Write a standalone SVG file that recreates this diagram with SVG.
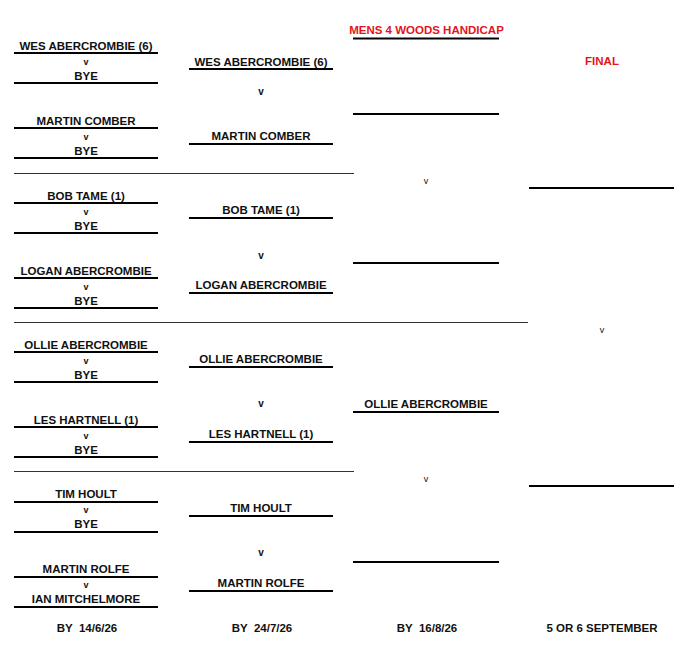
<svg xmlns="http://www.w3.org/2000/svg" width="700" height="664" viewBox="0 0 700 664">
<style>
text{font-family:"Liberation Sans",Arial,sans-serif;font-weight:bold;font-size:11.5px;fill:#111;text-anchor:middle;white-space:pre}
.vs{font-size:9px}
.vb{font-size:10px}
.vr{font-size:9px;font-weight:normal}
.red{fill:#e3141b}
.thick{stroke:#000;stroke-width:2}
.thin{stroke:#333;stroke-width:1}
</style>
<rect width="700" height="664" fill="#fff"/>
<g id="title">
<text class="red" x="426.5" y="34">MENS 4 WOODS HANDICAP</text>
<line class="thick" x1="353" y1="38.5" x2="499" y2="38.5"/>
</g>
<g id="final-title"><text class="red" x="602" y="65">FINAL</text></g>

<g id="connectors">
<line class="thin" x1="14" y1="173.5" x2="354" y2="173.5"/>
<line class="thin" x1="14" y1="322.5" x2="528" y2="322.5"/>
<line class="thin" x1="14" y1="471.5" x2="354" y2="471.5"/>
</g>

<!-- Round 1 -->
<g id="r1-m1">
<text x="86" y="49.5">WES ABERCROMBIE (6)</text><line class="thick" x1="14" y1="53" x2="158" y2="53"/>
<text class="vs" x="86" y="65">v</text>
<text x="86" y="79.5">BYE</text><line class="thick" x1="14" y1="83" x2="158" y2="83"/>
</g>
<g id="r1-m2">
<text x="86" y="124.5">MARTIN COMBER</text><line class="thick" x1="14" y1="128" x2="158" y2="128"/>
<text class="vs" x="86" y="140">v</text>
<text x="86" y="154.5">BYE</text><line class="thick" x1="14" y1="158" x2="158" y2="158"/>
</g>
<g id="r1-m3">
<text x="86" y="199.5">BOB TAME (1)</text><line class="thick" x1="14" y1="203" x2="158" y2="203"/>
<text class="vs" x="86" y="215">v</text>
<text x="86" y="229.5">BYE</text><line class="thick" x1="14" y1="233" x2="158" y2="233"/>
</g>
<g id="r1-m4">
<text x="86" y="274.5">LOGAN ABERCROMBIE</text><line class="thick" x1="14" y1="278" x2="158" y2="278"/>
<text class="vs" x="86" y="290">v</text>
<text x="86" y="304.5">BYE</text><line class="thick" x1="14" y1="308" x2="158" y2="308"/>
</g>
<g id="r1-m5">
<text x="86" y="348.5">OLLIE ABERCROMBIE</text><line class="thick" x1="14" y1="352" x2="158" y2="352"/>
<text class="vs" x="86" y="364">v</text>
<text x="86" y="378.5">BYE</text><line class="thick" x1="14" y1="382" x2="158" y2="382"/>
</g>
<g id="r1-m6">
<text x="86" y="423.5">LES HARTNELL (1)</text><line class="thick" x1="14" y1="427" x2="158" y2="427"/>
<text class="vs" x="86" y="439">v</text>
<text x="86" y="453.5">BYE</text><line class="thick" x1="14" y1="457" x2="158" y2="457"/>
</g>
<g id="r1-m7">
<text x="86" y="497.5">TIM HOULT</text><line class="thick" x1="14" y1="502" x2="158" y2="502"/>
<text class="vs" x="86" y="513">v</text>
<text x="86" y="527.5">BYE</text><line class="thick" x1="14" y1="532" x2="158" y2="532"/>
</g>
<g id="r1-m8">
<text x="86" y="572.5">MARTIN ROLFE</text><line class="thick" x1="14" y1="577" x2="158" y2="577"/>
<text class="vs" x="86" y="588">v</text>
<text x="86" y="602.5">IAN MITCHELMORE</text><line class="thick" x1="14" y1="607" x2="158" y2="607"/>
</g>

<!-- Round 2 -->
<g id="r2-m1">
<text x="261" y="65.5">WES ABERCROMBIE (6)</text><line class="thick" x1="189" y1="69" x2="333" y2="69"/>
<text class="vb" x="261" y="95">v</text>
<text x="261" y="139.5">MARTIN COMBER</text><line class="thick" x1="189" y1="144" x2="333" y2="144"/>
</g>
<g id="r2-m2">
<text x="261" y="213.5">BOB TAME (1)</text><line class="thick" x1="189" y1="218" x2="333" y2="218"/>
<text class="vb" x="261" y="259">v</text>
<text x="261" y="288.5">LOGAN ABERCROMBIE</text><line class="thick" x1="189" y1="293" x2="333" y2="293"/>
</g>
<g id="r2-m3">
<text x="261" y="362.5">OLLIE ABERCROMBIE</text><line class="thick" x1="189" y1="367" x2="333" y2="367"/>
<text class="vb" x="261" y="407">v</text>
<text x="261" y="437.5">LES HARTNELL (1)</text><line class="thick" x1="189" y1="442" x2="333" y2="442"/>
</g>
<g id="r2-m4">
<text x="261" y="511.5">TIM HOULT</text><line class="thick" x1="189" y1="516" x2="333" y2="516"/>
<text class="vb" x="261" y="556">v</text>
<text x="261" y="586.5">MARTIN ROLFE</text><line class="thick" x1="189" y1="591" x2="333" y2="591"/>
</g>

<!-- Round 3 -->
<g id="r3-m1">
<line class="thick" x1="353" y1="114" x2="499" y2="114"/>
<text class="vr" x="426" y="184">v</text>
<line class="thick" x1="353" y1="263" x2="499" y2="263"/>
</g>
<g id="r3-m2">
<text x="426" y="407.5">OLLIE ABERCROMBIE</text><line class="thick" x1="353" y1="412" x2="499" y2="412"/>
<text class="vr" x="426" y="482">v</text>
<line class="thick" x1="353" y1="562" x2="499" y2="562"/>
</g>

<!-- Final -->
<g id="final">
<line class="thick" x1="529" y1="188" x2="674" y2="188"/>
<text class="vr" x="602" y="333">v</text>
<line class="thick" x1="529" y1="486" x2="674" y2="486"/>
</g>

<g id="dates">
<text x="87" y="632">BY  14/6/26</text>
<text x="262" y="632">BY  24/7/26</text>
<text x="427" y="632">BY  16/8/26</text>
<text x="602" y="632">5 OR 6 SEPTEMBER</text>
</g>
</svg>
